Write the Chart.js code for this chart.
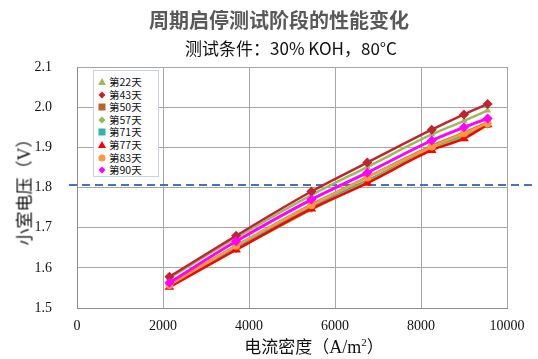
<!DOCTYPE html>
<html>
<head>
<meta charset="utf-8">
<script src="https://cdn.jsdelivr.net/npm/chart.js@4"></script>
<style>
  body { margin: 0; background: #fff; }
  #wrap { position: relative; width: 538px; height: 359px; overflow: hidden; font-family: "Noto Sans CJK SC", sans-serif; }
  #c { position: absolute; left: 0; top: 0; }
  .lbl { position: absolute; white-space: nowrap; transform: translate(-50%, -50%); }
  #title { left: 279px; top: 19px; font-size: 20px; font-weight: bold; color: #595959; }
  #sub { left: 291px; top: 47px; font-size: 17px; color: #111; }
  #xt { left: 314px; top: 345px; font-size: 17px; color: #111; }
  #xt .lat { font-family: "Liberation Serif", serif; font-size: 18px; }
  #yt { left: 23px; top: 188px; font-size: 17px; color: #111; transform: translate(-50%, -50%) rotate(-90deg); }
  #yt .lat { font-family: "Liberation Serif", serif; font-size: 18px; }
  #legend { position: absolute; left: 93px; top: 70px; width: 64px; height: 105px; border: 1px solid #c9d2de; background: #fff; }
  .item { position: absolute; left: 4px; height: 13px; font-size: 10.5px; line-height: 13px; color: #111; }
  .item svg { position: absolute; left: 0; top: 3px; }
  .item span { position: absolute; left: 11px; top: 0; white-space: nowrap; }
</style>
</head>
<body>
<div id="wrap">
  <canvas id="c" width="538" height="359"></canvas>
  <div class="lbl" id="title">周期启停测试阶段的性能变化</div>
  <div class="lbl" id="sub">测试条件：30% KOH，80°C</div>
  <div class="lbl" id="xt">电流密度（<span class="lat">A/m<sup style="font-size:11px">2</sup></span>）</div>
  <div class="lbl" id="yt">小室电压（<span class="lat">V</span>）</div>
  <div id="legend"></div>
</div>
<script>
// current density (A/m2)
const currentDensity = [2150, 3700, 5450, 6750, 8250, 9000, 9550];

const seriesNames = ['第22天', '第43天', '第50天', '第57天', '第71天', '第77天', '第83天', '第90天'];

const day22 = [1.575, 1.675, 1.781, 1.851, 1.932, 1.966, 1.992];
const day43 = [1.578, 1.680, 1.790, 1.862, 1.944, 1.982, 2.008];
const day50 = [1.560, 1.655, 1.758, 1.826, 1.904, 1.937, 1.962];
const day57 = [1.556, 1.645, 1.745, 1.814, 1.895, 1.926, 1.955];
const day71 = [1.557, 1.650, 1.752, 1.818, 1.898, 1.930, 1.955];
const day77 = [1.552, 1.645, 1.747, 1.811, 1.893, 1.922, 1.957];
const day83 = [1.557, 1.655, 1.756, 1.825, 1.902, 1.935, 1.960];
const day90 = [1.563, 1.666, 1.770, 1.837, 1.917, 1.950, 1.972];

const xTicks = [0, 2000, 4000, 6000, 8000, 10000];
const yTicks = [1.5, 1.6, 1.7, 1.8, 1.9, 2.0, 2.1];
const refVoltage = 1.806;

const allSeries = [day22, day43, day50, day57, day71, day77, day83, day90];
const colors = ['#9bbb59', '#c0242f', '#b9652c', '#86c24a', '#2fb5a6', '#ff0000', '#ff9a3c', '#ff00ff'];
const shapes = ['triangle', 'rectRot', 'rect', 'rectRot', 'rect', 'triangle', 'circle', 'rectRot'];
const sizes = [4, 5, 4, 3.5, 4, 5.5, 4, 5];
const lineW = [2.5, 2.5, 2, 2.5, 2, 2.5, 2.5, 3];
const drawOrder = [5, 4, 7, 6, 8, 3, 2, 1];

const datasets = allSeries.map((vals, i) => ({
  label: seriesNames[i],
  data: vals.map((v, j) => ({ x: currentDensity[j], y: v })),
  borderColor: colors[i],
  backgroundColor: colors[i],
  borderWidth: lineW[i],
  pointStyle: shapes[i],
  pointRadius: sizes[i],
  pointBorderWidth: 0,
  cubicInterpolationMode: 'monotone',
  order: drawOrder[i],
}));

const refLine = {
  id: 'refLine',
  beforeDatasetsDraw(chart) {
    const y = chart.scales.y.getPixelForValue(refVoltage);
    const ctx = chart.ctx;
    ctx.save();
    ctx.strokeStyle = '#4472c4';
    ctx.lineWidth = 2;
    ctx.setLineDash([8, 5]);
    ctx.beginPath();
    ctx.moveTo(69, y);
    ctx.lineTo(534, y);
    ctx.stroke();
    ctx.restore();
  }
};

new Chart(document.getElementById('c'), {
  type: 'line',
  data: { datasets },
  options: {
    responsive: false,
    animation: false,
    layout: { padding: { left: 0, right: 31, top: 67, bottom: 0 } },
    plugins: { legend: { display: false }, tooltip: { enabled: false } },
    scales: {
      x: {
        type: 'linear', min: 0, max: 10000,
        afterBuildTicks: s => { s.ticks = xTicks.map(v => ({ value: v })); },
        afterFit: s => { s.height = 51; },
        grid: { color: '#a6a6a6', drawTicks: false },
        border: { color: '#8c8c8c' },
        ticks: { padding: 10, color: '#111', font: { family: 'Liberation Serif', size: 14 }, callback: v => String(v) }
      },
      y: {
        type: 'linear', min: 1.5, max: 2.1,
        afterBuildTicks: s => { s.ticks = yTicks.map(v => ({ value: v })); },
        afterFit: s => { s.width = 77; },
        grid: { color: '#a6a6a6', drawTicks: false },
        border: { color: '#8c8c8c' },
        ticks: { padding: 25, color: '#111', font: { family: 'Liberation Serif', size: 14 }, callback: v => v.toFixed(1) }
      }
    }
  },
  plugins: [refLine]
});

// legend box
const legend = document.getElementById('legend');
function markerSvg(shape, color) {
  let s = '';
  if (shape === 'triangle') s = `<polygon points="4,0 8,7 0,7" fill="${color}"/>`;
  else if (shape === 'rectRot') s = `<polygon points="4,0.5 7.5,4 4,7.5 0.5,4" fill="${color}"/>`;
  else if (shape === 'rect') s = `<rect x="0.5" y="0.5" width="7" height="7" fill="${color}"/>`;
  else s = `<circle cx="4" cy="4" r="3.5" fill="${color}"/>`;
  return `<svg width="8" height="8">${s}</svg>`;
}
seriesNames.forEach((name, i) => {
  const d = document.createElement('div');
  d.className = 'item';
  d.style.top = (4 + i * 12.6) + 'px';
  d.innerHTML = markerSvg(shapes[i], colors[i]) + `<span>${name}</span>`;
  legend.appendChild(d);
});
</script>
</body>
</html>
